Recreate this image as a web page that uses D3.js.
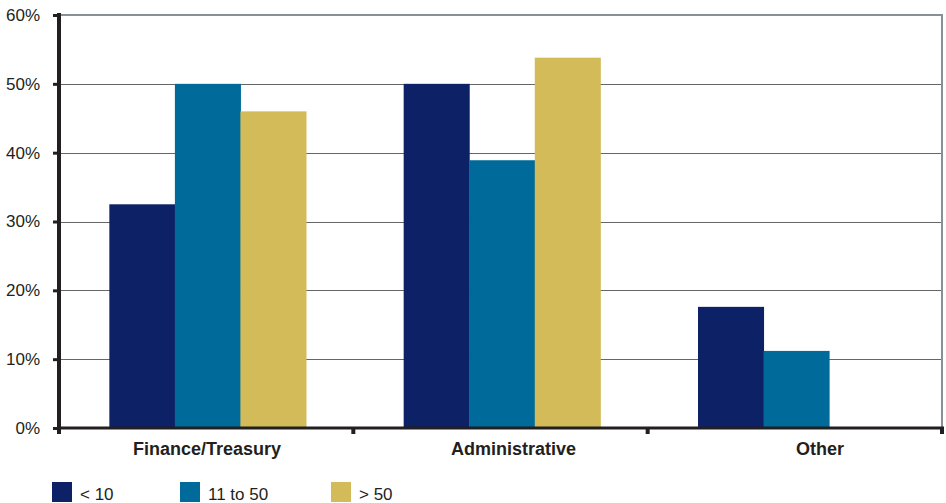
<!DOCTYPE html>
<html><head><meta charset="utf-8">
<script src="https://cdn.jsdelivr.net/npm/d3@7"></script>
<style>body{margin:0;background:#fff;} text{font-family:"Liberation Sans",Arial,sans-serif;fill:#231f20;}</style>
</head><body><svg id="c" width="946" height="503"></svg>
<script>
const categories = ["Finance/Treasury", "Administrative", "Other"];
const seriesNames = ["< 10", "11 to 50", "> 50"];
const seriesColors = ["#0d2167", "#006a9b", "#d3bb5a"];
const valuesLt10 = [32.5, 50, 17.6];
const values11to50 = [50, 38.9, 11.2];
const valuesGt50 = [46, 53.8, 0];
const yTicks = [0, 10, 20, 30, 40, 50, 60];

(function () {
const series = [valuesLt10, values11to50, valuesGt50];
const svg = d3.select("#c");
const pLeft = 59, pRight = 942, pTop = 15, pBottom = 428;

const y = d3.scaleLinear().domain([0, 60]).range([pBottom, pTop]);
const x0 = d3.scaleBand().domain(categories).range([pLeft, pRight]).padding(0);
const x1 = d3.scaleBand().domain(d3.range(seriesNames.length)).range([1.5, x0.bandwidth() + 1.5]).paddingInner(0).paddingOuter(0.745);
const xLabel = d3.scalePoint().domain(categories).range([207, 820]);

// gridlines
svg.append("g").selectAll("line").data(yTicks.filter(d => d > 0 && d < 60)).join("line")
  .attr("x1", pLeft).attr("x2", pRight).attr("y1", d => Math.round(y(d)) + 0.5).attr("y2", d => Math.round(y(d)) + 0.5)
  .attr("stroke", "#666").attr("stroke-width", 1);
// frame top & right
svg.append("line").attr("x1", pLeft).attr("x2", pRight + 1).attr("y1", y(60)).attr("y2", y(60)).attr("stroke", "#8a8f96").attr("stroke-width", 2);
svg.append("line").attr("x1", pRight).attr("x2", pRight).attr("y1", y(60)).attr("y2", pBottom).attr("stroke", "#8a8f96").attr("stroke-width", 2);

// bars
const g = svg.append("g");
categories.forEach((c, ci) => {
  series.forEach((s, si) => {
    g.append("rect")
      .attr("x", x0(c) + x1(si)).attr("width", x1.bandwidth() + 0.5)
      .attr("y", y(s[ci])).attr("height", y(0) - y(s[ci]))
      .attr("fill", seriesColors[si]);
  });
});

// y axis
const yAxis = d3.axisLeft(y).tickValues(yTicks).tickFormat(d => d + "%").tickSize(6).tickPadding(13);
const ya = svg.append("g").attr("transform", `translate(${pLeft},0)`).call(yAxis);
ya.select(".domain").remove();
ya.selectAll(".tick line").attr("stroke", "#231f20").attr("stroke-width", 3);
ya.selectAll(".tick text").attr("font-size", 17).attr("fill", "#231f20").attr("font-family", "Liberation Sans, Arial, sans-serif");
svg.append("line").attr("x1", pLeft).attr("x2", pLeft).attr("y1", pTop - 2).attr("y2", pBottom + 6).attr("stroke", "#231f20").attr("stroke-width", 4);

// x axis
svg.append("line").attr("x1", pLeft).attr("x2", pRight + 2).attr("y1", pBottom).attr("y2", pBottom).attr("stroke", "#231f20").attr("stroke-width", 3);
const tickXs = categories.map(c => x0(c)).concat([pRight]);
svg.append("g").selectAll("rect").data(tickXs).join("rect")
  .attr("x", d => d - 2).attr("y", pBottom).attr("width", 4).attr("height", 6).attr("fill", "#231f20");
svg.append("g").selectAll("text").data(categories).join("text")
  .attr("x", d => xLabel(d)).attr("y", pBottom + 27)
  .attr("text-anchor", "middle").attr("font-size", 18).attr("font-weight", "bold").text(d => d);

// legend
const legendX = [52, 180, 331];
const lg = svg.append("g");
seriesNames.forEach((n, i) => {
  lg.append("rect").attr("x", legendX[i]).attr("y", 482).attr("width", 20).attr("height", 20).attr("fill", seriesColors[i]);
  lg.append("text").attr("x", legendX[i] + 28).attr("y", 500).attr("font-size", 17).text(n);
});
})();
</script></body></html>
